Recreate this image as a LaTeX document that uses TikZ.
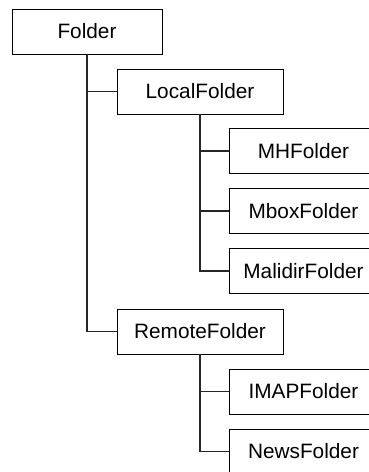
\documentclass[tikz,border=0pt]{standalone}
\usepackage{fontspec}
\setmainfont{Liberation Sans}
\tikzset{
every picture/.style={
line width=0.8pt
}}

\begin{document}
\begin{tikzpicture}[x=1pt, y=-1pt,
block/.style = {rectangle, draw=black, line width=0.8pt, minimum height=45pt, inner sep=0pt, font=\fontsize{20.8}{24}\selectfont},
top/.style = {block, minimum width=150pt},
mid/.style = {block, minimum width=166pt},
leaf/.style = {block, minimum width=149pt},
link/.style = {line width=1.1pt, black!85}]

\useasboundingbox (0,0) rectangle (369,472);
\clip (0,0) rectangle (369,472);

\node [top] (folder) at (87,31.5) {Folder};
\node [mid] (local) at (200,91.5) {LocalFolder};
\node [mid] (remote) at (200,331.5) {RemoteFolder};

\node [leaf] (mh) at (303.5,151) {MHFolder};
\node [leaf] (mbox) at (303.5,211) {MboxFolder};
\node [leaf] (malidir) at (303.5,271) {MalidirFolder};
\node [leaf] (imap) at (303.5,391.5) {IMAPFolder};
\node [leaf] (news) at (303.5,451.5) {NewsFolder};

% tree links
\draw [link] (folder.south) |- (local.west);
\draw [link] (folder.south) |- (remote.west);
\draw [link] (local.south) |- (mh.west);
\draw [link] (local.south) |- (mbox.west);
\draw [link] (local.south) |- (malidir.west);
\draw [link] (remote.south) |- (imap.west);
\draw [link] (remote.south) |- (news.west);

\end{tikzpicture}
\end{document}
